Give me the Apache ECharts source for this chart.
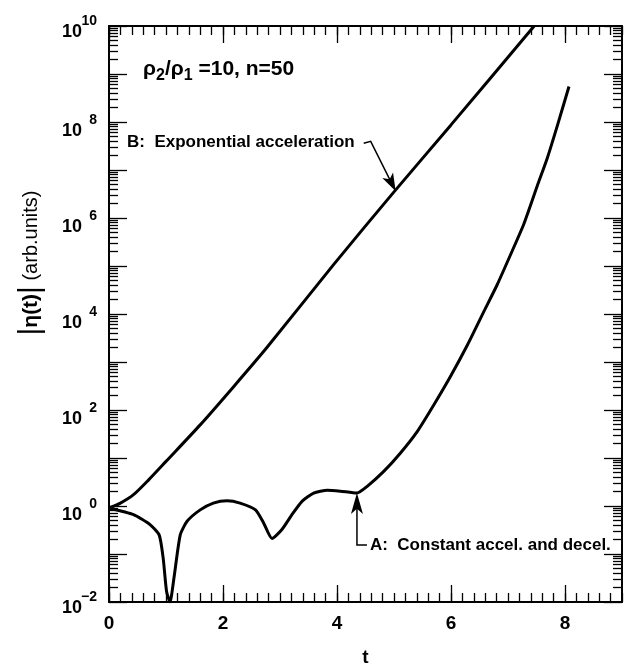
<!DOCTYPE html>
<html>
<head>
<meta charset="utf-8">
<script src="https://cdn.jsdelivr.net/npm/echarts@6/dist/echarts.min.js"></script>
<style>
  html, body { margin: 0; background: #fff; }
  #box { width: 626px; height: 667px; }
</style>
</head>
<body>
<div id="box"></div>
<script>
// curve A: constant accel. and decel.
const tA = [0, 0.43, 0.72, 0.88, 0.95, 1.01, 1.07, 1.14, 1.25, 1.37, 1.6, 1.83, 2.07, 2.3, 2.57, 2.71, 2.86, 3.03, 3.21, 3.39, 3.59, 3.83, 4.06, 4.35, 4.53, 4.82, 5.11, 5.41, 5.7, 5.99, 6.29, 6.58, 6.81, 7.05, 7.28, 7.52, 7.69, 7.87, 8.07];
const etaA = [0.91, 0.66, 0.41, 0.25, 0.083, 0.0166, 0.01, 0.032, 0.25, 0.48, 0.83, 1.15, 1.29, 1.15, 0.83, 0.45, 0.21, 0.32, 0.66, 1.26, 1.86, 2.14, 2.04, 1.86, 2.57, 5.25, 12.6, 36, 129, 500, 2290, 1.15e4, 4.07e4, 1.78e5, 7.6e5, 4.9e6, 1.78e7, 8.7e7, 5.5e8];
// curve B: exponential acceleration
const tB = [0, 0.2, 0.43, 0.7, 1.0, 1.6, 2.19, 2.77, 3.94, 5.0, 6.0, 7.46];
const etaB = [0.91, 1.15, 1.72, 3.55, 8.5, 49, 310, 2000, 1.07e5, 3.5e6, 8.7e7, 1.0e10];

const xLabels = [0, 2, 4, 6, 8];
const yDecades = [-2, -1, 0, 1, 2, 3, 4, 5, 6, 7, 8, 9, 10];
const yLabelExps = [-2, 0, 2, 4, 6, 8, 10];

const font = "'Liberation Sans', Arial, sans-serif";

// tick positions
const xMinor = [];
for (let i = 0; i <= 45; i++) xMinor.push(Math.round(i * 2) / 10);
const yMajor = yDecades.map((e) => Math.pow(10, e));
const yMinor = [];
for (let e = -2; e < 10; e++) {
  for (let k = 2; k <= 9; k++) yMinor.push(k * Math.pow(10, e));
}

var myChart = echarts.init(document.getElementById("box"));

function xAxisOf(pos, values, len, withLabel, withLine) {
  return {
    type: "value",
    position: pos,
    min: 0,
    max: 9,
    splitLine: { show: false },
    axisLine: { show: withLine, onZero: false, lineStyle: { color: "#000", width: 2 } },
    axisTick: { show: true, inside: true, length: len, customValues: values, lineStyle: { color: "#000", width: 1.3 } },
    axisLabel: withLabel
      ? { show: true, customValues: xLabels, margin: 12, color: "#000", fontFamily: font, fontWeight: "bold", fontSize: 19 }
      : { show: false },
  };
}

const supStyle = { fontFamily: font, fontWeight: "bold", fontSize: 14, color: "#000", verticalAlign: "bottom", width: 15, align: "right" };
const baseStyle = { fontFamily: font, fontWeight: "bold", fontSize: 18, color: "#000", verticalAlign: "bottom" };

function yAxisOf(pos, values, len, withLabel, withLine) {
  return {
    type: "log",
    logBase: 10,
    position: pos,
    min: 0.01,
    max: 1e10,
    splitLine: { show: false },
    minorTick: { show: false },
    axisLine: { show: withLine, onZero: false, lineStyle: { color: "#000", width: 2 } },
    axisTick: { show: true, inside: true, length: len, customValues: values, lineStyle: { color: "#000", width: 1.3 } },
    axisLabel: withLabel
      ? {
          show: true,
          customValues: yLabelExps.map((e) => Math.pow(10, e)),
          margin: 12,
          padding: [10, 0, 0, 0],
          formatter: function (v) {
            const e = Math.round(Math.log10(v));
            const k = e === -2 || e === 10 ? "e" : "";
            return "{b" + k + "|10}{s" + k + "|" + (e < 0 ? "\u2212" + -e : e) + "}";
          },
          rich: {
            b: baseStyle,
            s: Object.assign({}, supStyle, { padding: [0, 0, 13, 0] }),
            be: Object.assign({}, baseStyle, { padding: [0, 0, 7, 0] }),
            se: Object.assign({}, supStyle, { padding: [0, 0, 20, 0] }),
          },
        }
      : { show: false },
  };
}

myChart.setOption({
  animation: false,
  grid: { left: 109, right: 4, top: 26, bottom: 65, outerBoundsMode: "none" },
  xAxis: [
    Object.assign(xAxisOf("bottom", xLabels, 17, true, true), {
      name: "t",
      nameLocation: "middle",
      nameGap: 46,
      nameTextStyle: { color: "#000", fontFamily: font, fontWeight: "bold", fontSize: 19 },
    }),
    xAxisOf("bottom", xMinor, 9, false, false),
    xAxisOf("top", xLabels, 17, false, true),
    xAxisOf("top", xMinor, 9, false, false),
  ],
  yAxis: [
    yAxisOf("left", yMajor, 18, true, true),
    yAxisOf("left", yMinor, 9, false, false),
    yAxisOf("right", yMajor, 18, false, true),
    yAxisOf("right", yMinor, 9, false, false),
  ],
  series: [
    {
      name: "A",
      type: "line",
      data: tA.map((t, i) => [t, etaA[i]]),
      smooth: 0.2,
      showSymbol: false,
      clip: true,
      lineStyle: { color: "#000", width: 3 },
    },
    {
      name: "B",
      type: "line",
      data: tB.map((t, i) => [t, etaB[i]]),
      smooth: 0.25,
      showSymbol: false,
      clip: true,
      lineStyle: { color: "#000", width: 3 },
    },
  ],
});

// annotations
function arrowHead(tip, dx, dy, len, wid) {
  const n = Math.sqrt(dx * dx + dy * dy);
  const ux = dx / n, uy = dy / n;
  const bx = tip[0] - ux * len, by = tip[1] - uy * len;
  return [
    [tip[0], tip[1]],
    [bx - uy * wid / 2, by + ux * wid / 2],
    [tip[0] - ux * len * 0.75, tip[1] - uy * len * 0.75],
    [bx + uy * wid / 2, by - ux * wid / 2],
  ];
}

const tipB = myChart.convertToPixel({ gridIndex: 0 }, [5.03, 3.6e6]);
const tipA = myChart.convertToPixel({ gridIndex: 0 }, [4.35, 1.86]);
const tailB = [tipB[0] - 25, tipB[1] - 50];
const cornerA = [tipA[0], tipA[1] + 52];

myChart.setOption({
  graphic: [
    {
      type: "text",
      x: 31,
      y: 263,
      rotation: Math.PI / 2,
      style: {
        x: 0,
        y: 0,
        text: "{p|\u007c}{a|\u03b7(t)}{p|\u007c}{b| (arb.units)}",
        align: "center",
        verticalAlign: "middle",
        rich: {
          p: { fontFamily: font, fontSize: 30, fill: "#000" },
          a: { fontFamily: font, fontWeight: "bold", fontSize: 21, fill: "#000" },
          b: { fontFamily: font, fontSize: 20, fill: "#000" },
        },
      },
    },
    {
      type: "text",
      x: 143,
      y: 71,
      style: {
        text: "{r|\u03c1}{s|2}{r|/\u03c1}{s|1}{r| =10, n=50}",
        verticalAlign: "middle",
        rich: {
          r: { fontFamily: font, fontWeight: "bold", fontSize: 21, fill: "#000", verticalAlign: "top" },
          s: { fontFamily: font, fontWeight: "bold", fontSize: 16, fill: "#000", verticalAlign: "top", padding: [9, 0, 0, 0] },
        },
      },
    },
    {
      type: "text",
      x: tipB[0] - 41,
      y: tipB[1] - 49,
      style: {
        text: "B:  Exponential acceleration",
        align: "right",
        verticalAlign: "middle",
        fontFamily: font,
        fontWeight: "bold",
        fontSize: 17,
        fill: "#000",
      },
    },
    {
      type: "polyline",
      shape: { points: [[tailB[0] - 7, tailB[1] + 2], tailB, [tipB[0] - 4, tipB[1] - 8]] },
      style: { stroke: "#000", lineWidth: 1.5, fill: null },
    },
    {
      type: "polygon",
      shape: { points: arrowHead(tipB, 25, 50, 18, 12) },
      style: { fill: "#000" },
    },
    {
      type: "polyline",
      shape: { points: [[cornerA[0] + 10, cornerA[1]], cornerA, [tipA[0], tipA[1] + 8]] },
      style: { stroke: "#000", lineWidth: 1.5, fill: null },
    },
    {
      type: "polygon",
      shape: { points: arrowHead(tipA, 0, -1, 21, 12) },
      style: { fill: "#000" },
    },
    {
      type: "text",
      x: cornerA[0] + 13,
      y: cornerA[1],
      style: {
        text: "A:  Constant accel. and decel.",
        align: "left",
        verticalAlign: "middle",
        fontFamily: font,
        fontWeight: "bold",
        fontSize: 17,
        fill: "#000",
      },
    },
  ],
});
</script>
</body>
</html>
